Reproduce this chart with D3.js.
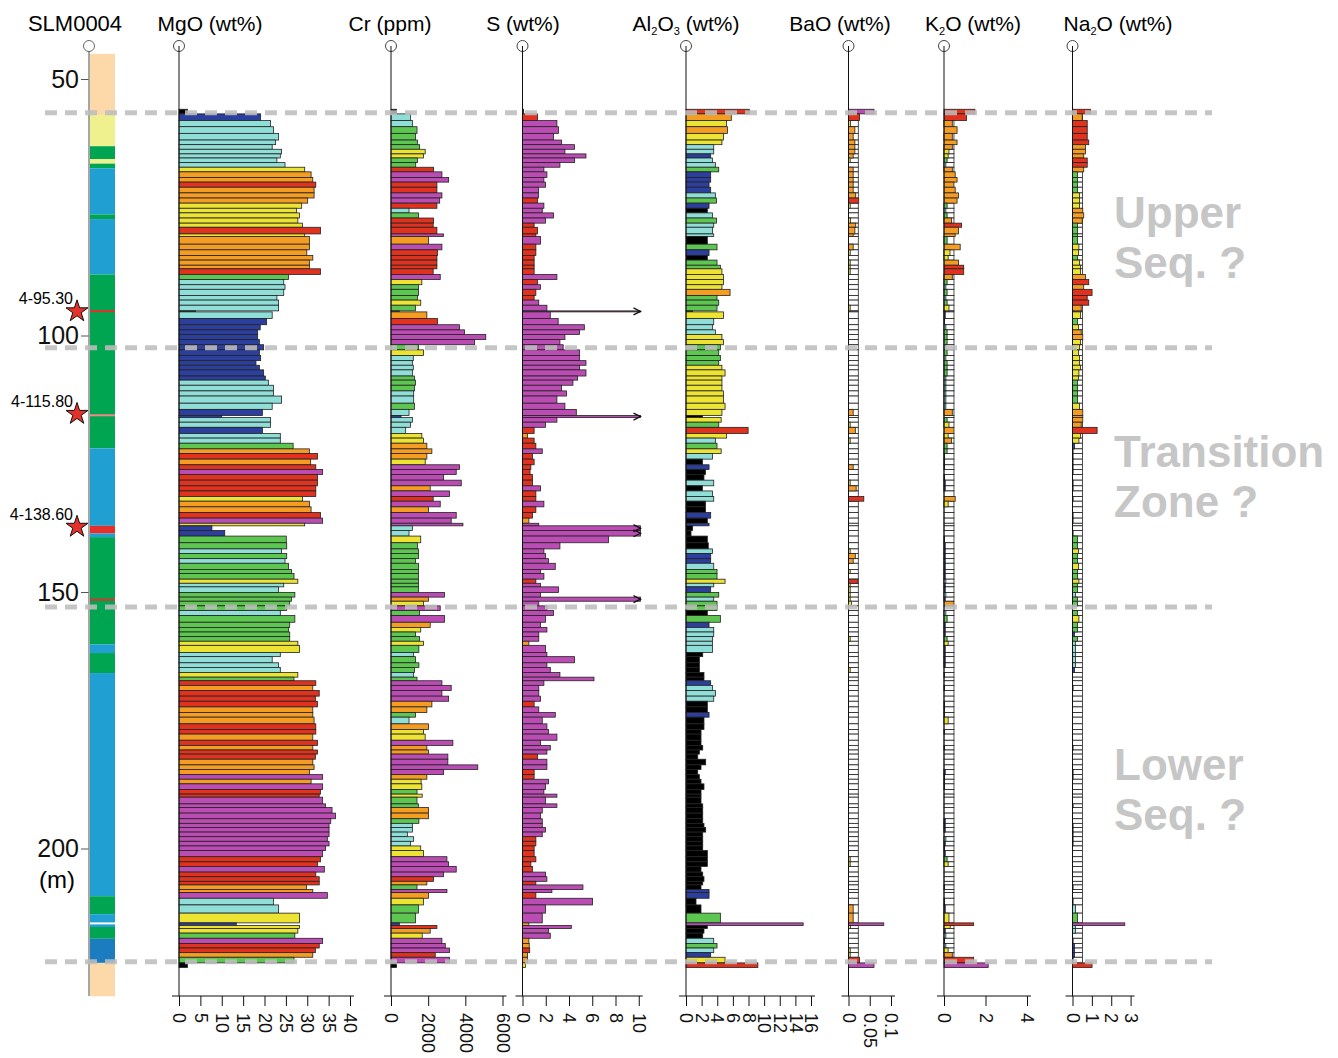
<!DOCTYPE html>
<html>
<head>
<meta charset="utf-8">
<script src="https://cdn.jsdelivr.net/npm/d3@7"></script>
<style>
  body { margin: 0; background: #fff; }
  svg text { font-family: "Liberation Sans", Arial, Helvetica, sans-serif; }
</style>
</head>
<body>
<svg id="chart" width="1338" height="1058"></svg>
<script>
// sample boundaries (m), one more than the number of samples
const sampleDepths = [
  55.9, 56.8, 58.1, 59.3, 60.6, 61.9, 62.8, 63.7, 64.6, 65.4,
  66.3, 67.2, 68.1, 69.2, 70.1, 71.1, 72.2, 73.2, 74.2, 75.2,
  76.1, 77.1, 78.1, 78.9, 80.2, 80.7, 82.2, 83.3, 84.4, 85.3,
  86.3, 87.0, 88.1, 89.1, 90.1, 91.0, 92.2, 93.1, 94.1, 95.2,
  95.4, 96.7, 97.9, 98.9, 99.8, 100.8, 101.8, 102.8, 103.9, 104.9,
  105.8, 106.7, 107.9, 108.7, 109.7, 110.8, 111.8, 113.2, 114.4, 115.6,
  116.0, 116.9, 117.9, 119.1, 120.0, 121.0, 122.1, 123.0, 124.1, 125.2,
  126.1, 127.1, 128.2, 129.3, 130.3, 131.4, 132.3, 133.4, 134.5, 135.6,
  136.6, 137.1, 138.0, 139.1, 140.4, 141.6, 142.5, 143.5, 144.4, 145.6,
  146.4, 147.5, 148.3, 149.0, 150.1, 151.0, 151.8, 152.7, 153.6, 154.6,
  155.9, 156.9, 157.8, 158.7, 159.6, 160.4, 161.8, 162.6, 163.8, 164.7,
  165.7, 166.6, 167.3, 168.2, 169.2, 170.3, 171.3, 172.4, 173.5, 174.4,
  175.7, 176.8, 177.7, 178.9, 179.9, 180.8, 181.6, 182.6, 183.7, 184.6,
  185.6, 186.5, 187.4, 188.5, 189.4, 190.0, 191.3, 192.0, 193.1, 194.2,
  195.1, 195.9, 196.8, 197.7, 198.6, 199.5, 200.4, 201.6, 202.6, 203.5,
  204.6, 205.5, 206.4, 207.1, 208.0, 208.6, 209.7, 211.0, 212.6, 214.5,
  215.0, 215.6, 216.5, 217.5, 218.5, 219.4, 220.3, 221.2, 222.3, 223.2
];

const mgo = [
  2.0, 19.1, 21.4, 22.1, 23.3, 22.6, 21.8, 24.0, 23.7, 22.9,
  24.8, 29.4, 30.9, 31.3, 32.0, 31.6, 31.6, 30.1, 28.7, 27.5,
  28.2, 27.8, 28.9, 33.1, 29.4, 30.5, 30.5, 29.9, 31.3, 30.5,
  30.5, 33.1, 25.6, 24.5, 24.8, 24.5, 22.9, 23.3, 23.3, 3.9,
  21.8, 20.5, 19.0, 18.4, 18.4, 18.8, 19.8, 18.8, 19.1, 18.0,
  18.8, 19.8, 20.2, 20.9, 22.1, 22.1, 24.0, 21.8, 19.5, 10.0,
  21.4, 21.4, 19.5, 23.7, 23.7, 26.7, 30.5, 32.4, 30.8, 32.0,
  33.6, 32.4, 32.4, 32.0, 32.0, 28.9, 30.5, 30.9, 33.1, 33.6,
  29.4, 7.7, 10.7, 25.1, 25.2, 24.0, 25.2, 24.8, 25.6, 26.3,
  26.9, 27.8, 24.5, 23.3, 27.1, 26.3, 25.9, 25.2, 23.7, 27.1,
  25.9, 25.6, 25.9, 25.9, 27.8, 28.2, 23.7, 21.8, 23.3, 23.7,
  27.8, 26.9, 32.0, 31.3, 32.8, 31.9, 32.4, 31.3, 31.3, 31.6,
  32.0, 32.0, 31.3, 32.4, 31.3, 32.4, 31.9, 31.3, 31.6, 30.5,
  33.6, 30.9, 33.6, 33.1, 32.8, 33.6, 34.3, 35.8, 36.6, 35.5,
  35.1, 35.1, 35.1, 34.7, 35.1, 34.3, 33.6, 33.1, 32.4, 34.0,
  32.0, 32.8, 32.8, 29.8, 31.3, 34.7, 22.1, 23.3, 28.2, 13.4,
  28.2, 27.8, 27.1, 33.6, 32.8, 31.9, 31.3, 26.9, 2.0
];

const cr = [
  300, 1045, 1150, 1400, 1315, 1420, 1540, 1840, 1750, 1420,
  1330, 2290, 2740, 3100, 2470, 2470, 2740, 2620, 2470, 970,
  1480, 2290, 2270, 2470, 2830, 2020, 2740, 2500, 2470, 2470,
  2470, 2270, 2650, 1660, 1480, 1480, 1420, 1600, 1315, 450,
  1930, 2500, 3690, 3960, 5100, 4500, 1480, 1750, 1200, 1150,
  1200, 1150, 1260, 1315, 1260, 1220, 1220, 1260, 970, 540,
  1150, 1045, 790, 1660, 1750, 1930, 2200, 1930, 1840, 3690,
  3510, 2830, 3780, 2110, 3150, 2270, 2650, 2020, 3510, 3240,
  3870, 1150, 970, 1600, 1420, 1480, 1480, 1315, 1480, 1480,
  1480, 1480, 1480, 1480, 2880, 2020, 1750, 2650, 1540, 2880,
  2110, 1600, 1315, 1540, 1750, 1500, 1220, 1315, 1500, 1260,
  1220, 1400, 2740, 3240, 2740, 3100, 2200, 1930, 1315, 970,
  2020, 1750, 1840, 3330, 1930, 2020, 3060, 3060, 4670, 2830,
  1930, 1620, 1660, 1400, 1680, 1400, 1480, 2020, 2020, 1500,
  1150, 1150, 880, 1220, 1045, 1600, 1750, 3010, 3100, 3510,
  2830, 2290, 1930, 1400, 3010, 2020, 1750, 1480, 1315, 450,
  2470, 2110, 1680, 2740, 2920, 3150, 2380, 3150, 300
];

const sulfur = [
  0.1, 1.29, 2.96, 3.10, 2.67, 3.36, 4.48, 3.65, 5.46, 4.48,
  3.22, 1.84, 2.10, 1.84, 1.98, 1.38, 1.38, 1.29, 1.84, 1.70,
  2.67, 1.98, 1.0, 1.29, 1.15, 1.55, 1.15, 1.15, 1.0, 1.0,
  1.0, 1.0, 2.96, 1.29, 1.55, 1.15, 1.0, 1.4, 2.1, 15,
  2.39, 3.07, 5.32, 4.91, 3.65, 3.22, 3.5, 4.91, 4.91, 5.46,
  4.91, 5.46, 4.74, 4.34, 3.36, 3.79, 2.96, 3.65, 4.63, 15,
  2.96, 1.98, 1.0, 0.43, 1.0, 1.15, 1.70, 0.86, 1.0, 0.72,
  0.65, 0.86, 0.86, 1.55, 1.15, 1.15, 1.84, 1.15, 0.86, 0.55,
  1.4, 15, 15, 7.4, 3.22, 1.84, 1.98, 2.24, 2.82, 1.55,
  1.84, 1.15, 1.55, 3.10, 1.55, 15, 1.4, 2.1, 2.67, 1.98,
  1.55, 2.1, 1.4, 1.4, 0.55, 1.98, 2.1, 4.48, 2.1, 2.39,
  3.22, 6.15, 1.84, 1.4, 1.4, 1.55, 1.0, 1.4, 2.82, 1.70,
  2.1, 2.24, 2.96, 1.55, 2.39, 2.1, 1.29, 2.1, 2.1, 1.0,
  1.0, 2.24, 1.98, 1.84, 2.96, 1.98, 2.96, 1.70, 1.55, 1.70,
  1.70, 1.98, 1.70, 1.15, 1.15, 1.0, 1.0, 1.15, 0.72, 0.86,
  1.98, 2.1, 1.15, 5.2, 2.53, 1.15, 6.03, 1.98, 1.70, 0.55,
  4.2, 2.24, 2.39, 0.55, 0.58, 0.62, 0.43, 0.43, 0.25
];

const al2o3 = [
  8.1, 5.8, 5.2, 5.3, 4.8, 4.6, 3.55, 3.55, 3.16, 3.38,
  3.76, 4.19, 3.16, 3.16, 2.95, 3.16, 3.76, 3.9, 2.95, 2.73,
  3.38, 3.9, 3.55, 3.38, 3.55, 2.73, 3.97, 2.95, 2.73, 3.97,
  4.4, 4.6, 4.8, 4.8, 4.6, 5.64, 3.97, 4.19, 3.97, 0.85,
  4.8, 3.55, 3.38, 3.76, 4.6, 4.8, 4.4, 4.19, 4.4, 4.19,
  4.6, 5.0, 4.6, 4.6, 4.6, 4.8, 4.8, 5.0, 4.6, 2.1,
  4.5, 4.19, 7.95, 5.2, 3.76, 3.97, 4.5, 3.38, 2.1, 2.95,
  2.5, 2.3, 3.55, 2.1, 3.38, 3.55, 2.5, 2.5, 3.16, 2.73,
  2.95, 0.85, 0.64, 2.73, 2.85, 3.38, 3.16, 3.16, 3.55, 3.97,
  3.97, 5.0, 3.55, 3.16, 4.19, 3.55, 3.97, 3.97, 2.73, 4.4,
  2.95, 3.55, 3.55, 3.38, 3.38, 3.38, 2.14, 1.71, 1.71, 1.71,
  2.3, 2.3, 3.16, 3.38, 3.76, 3.55, 2.73, 2.73, 2.95, 2.3,
  2.3, 1.92, 1.92, 1.92, 2.14, 1.71, 1.5, 2.52, 1.92, 1.5,
  1.71, 1.92, 2.3, 1.92, 1.92, 1.92, 2.14, 2.14, 2.14, 2.14,
  2.3, 2.52, 2.14, 2.14, 2.14, 2.14, 2.73, 2.73, 2.73, 1.92,
  2.14, 2.3, 2.14, 1.92, 2.95, 2.95, 1.28, 1.92, 4.4, 15,
  2.73, 2.3, 2.14, 3.55, 3.97, 3.55, 3.16, 5.0, 9.2
];

// null = below detection limit
const bao = [
  0.06, 0.026, 0.005, 0.015, 0.011, 0.015, 0.015, 0.015, 0.011, 0.004,
  null, 0.011, 0.011, 0.011, 0.011, 0.011, 0.017, 0.024, 0.004, null,
  null, 0.005, 0.017, 0.015, 0.011, null, 0.011, 0.004, null, 0.004,
  0.004, 0.004, null, null, null, null, null, null, 0.004, null,
  null, null, null, null, null, null, null, null, null, null,
  null, null, null, null, null, null, null, null, 0.011, null,
  null, 0.004, 0.016, null, 0.004, null, null, null, null, 0.011,
  null, null, 0.004, 0.018, null, 0.036, null, null, null, null,
  null, null, null, null, null, 0.004, 0.016, 0.011, null, 0.004,
  null, 0.022, 0.004, 0.004, 0.004, 0.004, 0.007, null, null, null,
  null, null, null, 0.004, null, null, null, null, null, 0.004,
  null, null, null, null, null, null, null, null, null, null,
  null, null, null, null, null, null, null, null, null, null,
  null, null, null, null, null, null, null, null, null, null,
  null, null, null, null, null, null, null, 0.004, 0.004, null,
  null, null, null, null, null, null, null, 0.011, 0.011, 0.083,
  0.005, null, null, null, null, 0.004, 0.004, 0.026, 0.06
];

const k2o = [
  1.49, 1.09, 0.40, 0.63, 0.40, 0.63, 0.40, 0.24, 0.2, 0.15,
  0.09, 0.40, 0.54, 0.63, 0.48, 0.54, 0.70, 0.63, 0.15, 0.09,
  0.15, 0.36, 0.85, 0.70, 0.54, 0.15, 0.78, 0.29, 0.2, 0.70,
  0.95, 0.95, 0.40, 0.15, 0.09, 0.15, 0.09, 0.15, 0.24, 0.06,
  0.06, 0.03, 0.09, 0.15, 0.15, 0.15, 0.09, 0.15, 0.09, 0.15,
  0.15, 0.15, 0.09, 0.09, 0.09, 0.09, 0.09, 0.09, 0.40, null,
  0.15, 0.24, 0.48, 0.2, 0.36, 0.15, 0.15, 0.03, 0.03, 0.03,
  null, 0.03, 0.06, 0.06, null, 0.54, 0.2, null, null, null,
  null, null, null, 0.03, 0.06, 0.06, 0.06, 0.06, 0.06, 0.06,
  0.06, 0.09, 0.06, 0.06, 0.09, 0.06, 0.48, null, 0.09, 0.15,
  0.06, 0.06, 0.06, 0.15, 0.2, 0.06, 0.06, 0.06, 0.06, null,
  0.03, null, null, 0.03, null, null, 0.03, 0.03, 0.03, 0.2,
  null, 0.03, null, null, 0.03, null, null, null, null, 0.06,
  0.03, 0.03, 0.03, null, null, null, null, null, null, 0.06,
  0.06, 0.06, null, 0.09, 0.06, 0.03, 0.06, 0.15, 0.2, null,
  null, null, null, 0.03, null, null, 0.03, 0.06, 0.24, 1.43,
  0.3, 0.06, 0.09, 0.03, 0.09, 0.2, 0.4, 1.43, 2.13
];

const na2o = [
  0.93, 0.5, 0.76, 0.76, 0.76, 0.84, 0.67, 0.67, 0.58, 0.76,
  0.76, 0.58, 0.26, 0.26, 0.26, 0.26, 0.36, 0.36, 0.36, 0.53,
  0.58, 0.5, 0.26, 0.26, 0.26, 0.26, 0.33, 0.31, 0.26, 0.36,
  0.41, 0.41, 0.67, 0.84, 0.58, 1.01, 0.76, 0.84, 0.45, 0.03,
  0.41, 0.26, 0.31, 0.45, 0.53, 0.42, 0.36, 0.31, 0.36, 0.36,
  0.41, 0.33, 0.31, 0.26, 0.26, 0.26, 0.26, 0.36, 0.53, 0.53,
  0.53, 0.45, 1.27, 0.41, 0.33, 0.1, 0.03, 0.03, 0.03, 0.03,
  0.03, null, 0.03, 0.03, null, 0.03, null, null, 0.03, 0.03,
  null, null, 0.03, 0.26, 0.26, 0.31, 0.26, 0.26, 0.31, 0.26,
  0.26, 0.33, 0.26, 0.26, 0.15, 0.26, 0.26, null, 0.26, 0.33,
  0.26, 0.26, 0.1, 0.26, 0.15, 0.15, 0.15, 0.15, 0.15, 0.1,
  null, null, null, 0.03, null, null, null, null, null, null,
  null, null, null, null, 0.03, null, null, null, null, 0.03,
  0.03, null, null, null, null, null, 0.03, null, null, null,
  0.03, 0.03, 0.03, 0.03, 0.03, null, null, null, null, null,
  null, null, null, 0.03, null, null, 0.03, 0.15, 0.26, 2.7,
  0.15, 0.15, null, 0.03, 0.1, 0.1, 0.1, 0.03, 1.01
];

// lithology column of SLM0004
const lithoTop  = [45.1, 57.0, 63.1, 65.6, 66.5, 67.4, 76.4, 77.3, 88.1, 122.0, 137.1, 138.6, 139.3, 160.2, 161.9, 165.8, 209.3, 212.8, 215.3, 217.6, 222.3];
const lithoBase = [57.0, 63.1, 65.6, 66.5, 67.4, 76.4, 77.3, 88.1, 122.0, 137.1, 138.6, 139.3, 160.2, 161.9, 165.8, 209.3, 212.8, 215.3, 217.6, 222.3, 228.8];
const lithoUnit = ['cover', 'pale', 'green', 'pale', 'green', 'blue', 'green', 'blue', 'green', 'blue', 'red', 'blue', 'green', 'blue', 'green', 'blue', 'green', 'blue', 'green', 'dark', 'cover'];
const veinDepths = [95.25, 115.55, 151.5, 214.6];
const veinUnit = ['red', 'pink', 'red', 'white'];

const starDepths = [95.3, 115.3, 137.3];
const starLabels = ['4-95.30', '4-115.80', '4-138.60'];

const boundaryDepths = [56.6, 102.4, 152.9, 222.1];
const zoneLines = [['Upper', 'Seq. ?'], ['Transition', 'Zone ?'], ['Lower', 'Seq. ?']];
const zoneDepths = [79.0, 125.6, 186.6];

const depthTicks = [50, 100, 150, 200];
const mgoTicks = [0, 5, 10, 15, 20, 25, 30, 35, 40];
const crTicks = [0, 2000, 4000, 6000];
const sTicks = [0, 2, 4, 6, 8, 10];
const alTicks = [0, 2, 4, 6, 8, 10, 12, 14, 16];
const baTicks = [0, 0.05, 0.1];
const kTicks = [0, 2, 4];
const naTicks = [0, 1, 2, 3];

const barColor = {
  k: '#000000', b: '#2c3f9c', c: '#90ded8', g: '#5dc650',
  y: '#ece333', o: '#f59c22', r: '#e0321f', p: '#bb4cb3'
};
const lithoColor = {
  cover: '#fdd9a9', pale: '#eef18e', green: '#00a551', blue: '#20a0d2',
  red: '#e3302a', dark: '#1c7cc0', pink: '#f3868a', white: '#ffffff'
};

const panels = [
  {title: [['MgO (wt%)']], titleX: 210, values: mgo, domain: [0, 40], range: [179, 350], ticks: mgoTicks,
   thresholds: [5, 20.7, 25, 27.3, 29.6, 31.8, 33.4], classes: ['k', 'b', 'c', 'g', 'y', 'o', 'r', 'p']},
  {title: [['Cr (ppm)']], titleX: 390, values: cr, domain: [0, 6000], range: [391, 502.5], ticks: crTicks,
   thresholds: [350, 700, 1250, 1550, 1900, 2250, 2600], classes: ['k', 'b', 'c', 'g', 'y', 'o', 'r', 'p']},
  {title: [['S (wt%)']], titleX: 523, values: sulfur, domain: [0, 10], range: [522.5, 638.75], ticks: sTicks, clip: 10.15,
   thresholds: [0.2, 0.35, 0.6, 1.35], classes: ['k', 'y', 'o', 'r', 'p']},
  {title: [['Al'], ['2', 'sub'], ['O'], ['3', 'sub'], [' (wt%)']], titleX: 686, values: al2o3, domain: [0, 16], range: [686, 811], ticks: alTicks,
   thresholds: [2.9, 3.3, 3.85, 4.45, 5.25, 7, 10], classes: ['k', 'b', 'c', 'g', 'y', 'o', 'r', 'p']},
  {title: [['BaO (wt%)']], titleX: 840, values: bao, domain: [0, 0.1], range: [848.5, 891], ticks: baTicks, dl: 0.023,
   thresholds: [0.008, 0.019, 0.045], classes: ['y', 'o', 'r', 'p']},
  {title: [['K'], ['2', 'sub'], ['O (wt%)']], titleX: 973, values: k2o, domain: [0, 4], range: [944, 1027], ticks: kTicks, dl: 0.48,
   thresholds: [0.045, 0.075, 0.12, 0.18, 0.35, 0.8, 2], classes: ['k', 'b', 'c', 'g', 'y', 'o', 'r', 'p']},
  {title: [['Na'], ['2', 'sub'], ['O (wt%)']], titleX: 1118, values: na2o, domain: [0, 3], range: [1072.5, 1130.6], ticks: naTicks, dl: 0.52,
   thresholds: [0.05, 0.12, 0.2, 0.29, 0.44, 0.72, 2], classes: ['k', 'b', 'c', 'g', 'y', 'o', 'r', 'p']}
];

const AXIS_TOP = 46;
const AXIS_Y = 996;
const COL_X = 89;

const svg = d3.select('#chart');
const y = d3.scaleLinear().domain([50, 200]).range([79, 848.5]);

// samples as objects shared by all panels
const samples = d3.range(sampleDepths.length - 1).map(i => ({i: i, top: sampleDepths[i], base: sampleDepths[i + 1]}));

// ---------- lithology column ----------
const litho = lithoTop.map((t, i) => ({top: t, base: lithoBase[i], unit: lithoUnit[i]}));
svg.append('g').selectAll('rect')
  .data(litho)
  .join('rect')
  .attr('x', COL_X + 1)
  .attr('width', 25)
  .attr('y', d => y(d.top))
  .attr('height', d => y(d.base) - y(d.top))
  .attr('fill', d => lithoColor[d.unit]);

svg.append('g').selectAll('rect')
  .data(veinDepths.map((d, i) => ({depth: d, unit: veinUnit[i]})))
  .join('rect')
  .attr('x', COL_X + 1)
  .attr('width', 25)
  .attr('y', d => y(d.depth) - 1)
  .attr('height', 2)
  .attr('fill', d => lithoColor[d.unit]);

// depth axis
const depthAxis = svg.append('g')
  .attr('transform', `translate(${COL_X},0)`)
  .call(d3.axisLeft(y).tickValues(depthTicks).tickSize(8).tickFormat(d3.format('d')));
depthAxis.select('.domain').remove();
depthAxis.selectAll('.tick line').attr('stroke', '#555');
depthAxis.selectAll('.tick text').attr('x', -10).style('font-size', '25px').attr('fill', '#111');

svg.append('line')
  .attr('x1', COL_X).attr('x2', COL_X)
  .attr('y1', AXIS_TOP).attr('y2', AXIS_Y)
  .attr('stroke', '#888').attr('stroke-width', 1.5);

svg.append('text')
  .attr('x', 57).attr('y', 888)
  .attr('text-anchor', 'middle')
  .style('font-size', '24px')
  .text('(m)');

svg.append('text')
  .attr('x', 75).attr('y', 31)
  .attr('text-anchor', 'middle')
  .style('font-size', '22px')
  .text('SLM0004');

svg.append('circle')
  .attr('cx', COL_X).attr('cy', AXIS_TOP).attr('r', 5.5)
  .attr('fill', '#fff').attr('stroke', '#666');

// ---------- element panels ----------
panels.forEach(p => {
  const x = d3.scaleLinear().domain(p.domain).range(p.range);
  const color = d3.scaleThreshold().domain(p.thresholds).range(p.classes.map(c => barColor[c]));
  const g = svg.append('g');
  const vmax = p.clip || Infinity;

  // white detection-limit bars
  if (p.dl) {
    g.append('g').selectAll('rect')
      .data(samples.filter(s => p.values[s.i] === null || p.values[s.i] < p.dl))
      .join('rect')
      .attr('x', x(0))
      .attr('y', s => y(s.top))
      .attr('width', x(p.dl) - x(0))
      .attr('height', s => Math.max(0.8, y(s.base) - y(s.top)))
      .attr('fill', '#fff')
      .attr('stroke', '#222')
      .attr('stroke-width', 0.8);
  }

  const measured = samples.filter(s => p.values[s.i] !== null);
  g.append('g').selectAll('rect')
    .data(measured)
    .join('rect')
    .attr('x', x(0))
    .attr('y', s => y(s.top))
    .attr('width', s => x(Math.min(p.values[s.i], vmax)) - x(0))
    .attr('height', s => Math.max(0.8, y(s.base) - y(s.top)))
    .attr('fill', s => color(p.values[s.i]))
    .attr('stroke', '#222')
    .attr('stroke-width', 0.8);

  // arrows for values beyond the scale
  if (p.clip) {
    g.append('g').selectAll('path')
      .data(measured.filter(s => p.values[s.i] > p.domain[1]))
      .join('path')
      .attr('d', s => {
        const xe = x(p.clip), ym = (y(s.top) + y(s.base)) / 2;
        return `M${xe - 7},${ym - 3.5}L${xe},${ym}L${xe - 7},${ym + 3.5}`;
      })
      .attr('fill', 'none')
      .attr('stroke', '#111')
      .attr('stroke-width', 1.3);
  }

  // vertical axis with the lollipop head
  g.append('circle')
    .attr('cx', x(0)).attr('cy', AXIS_TOP).attr('r', 5.5)
    .attr('fill', '#fff').attr('stroke', '#444');
  g.append('line')
    .attr('x1', x(0)).attr('x2', x(0))
    .attr('y1', AXIS_TOP).attr('y2', AXIS_Y)
    .attr('stroke', '#111').attr('stroke-width', 1);

  // bottom axis
  const ax = g.append('g')
    .attr('transform', `translate(0,${AXIS_Y})`)
    .call(d3.axisBottom(x).tickValues(p.ticks).tickSize(10).tickSizeOuter(0).tickFormat(d3.format('')));
  ax.select('.domain').attr('d', `M${p.range[0] - 7},0H${p.range[1] + 4}`).attr('stroke', '#111');
  ax.selectAll('.tick line').attr('stroke', '#111');
  ax.selectAll('.tick text')
    .attr('transform', 'rotate(90)')
    .attr('x', 17).attr('y', 0).attr('dy', '0.35em')
    .attr('text-anchor', 'start')
    .attr('fill', '#111')
    .style('font-size', '18px');

  // title with subscripts
  const t = svg.append('text')
    .attr('x', p.titleX).attr('y', 31)
    .attr('text-anchor', 'middle')
    .style('font-size', '21px');
  let shifted = false;
  p.title.forEach(part => {
    const ts = t.append('tspan').text(part[0]);
    if (part[1] === 'sub') {
      ts.style('font-size', '11px').attr('dy', 4);
      shifted = true;
    } else if (shifted) {
      ts.attr('dy', -4);
      shifted = false;
    }
  });
});

// ---------- boundaries ----------
svg.append('g').selectAll('line')
  .data(boundaryDepths)
  .join('line')
  .attr('x1', 45).attr('x2', 1212)
  .attr('y1', d => y(d)).attr('y2', d => y(d))
  .attr('stroke', '#bdbdbd')
  .attr('stroke-opacity', 0.88)
  .attr('stroke-width', 5)
  .attr('stroke-dasharray', '12,8');

// ---------- stars ----------
const star = d3.symbol().type(d3.symbolStar).size(150);
svg.append('g').selectAll('path')
  .data(starDepths)
  .join('path')
  .attr('transform', d => `translate(77,${y(d)})`)
  .attr('d', star)
  .attr('fill', '#e3322b')
  .attr('stroke', '#111')
  .attr('stroke-width', 1);

svg.append('g').selectAll('text')
  .data(starDepths)
  .join('text')
  .attr('x', 73)
  .attr('y', d => y(d) - 7)
  .attr('text-anchor', 'end')
  .style('font-size', '16px')
  .text((d, i) => starLabels[i]);

// ---------- zone labels ----------
const zones = svg.append('g');
zoneLines.forEach((lines, i) => {
  lines.forEach((line, j) => {
    zones.append('text')
      .attr('x', 1114)
      .attr('y', y(zoneDepths[i]) + j * 50)
      .attr('fill', '#c6c6c6')
      .style('font-size', '44px')
      .style('font-weight', 'bold')
      .text(line);
  });
});
</script>
</body>
</html>
